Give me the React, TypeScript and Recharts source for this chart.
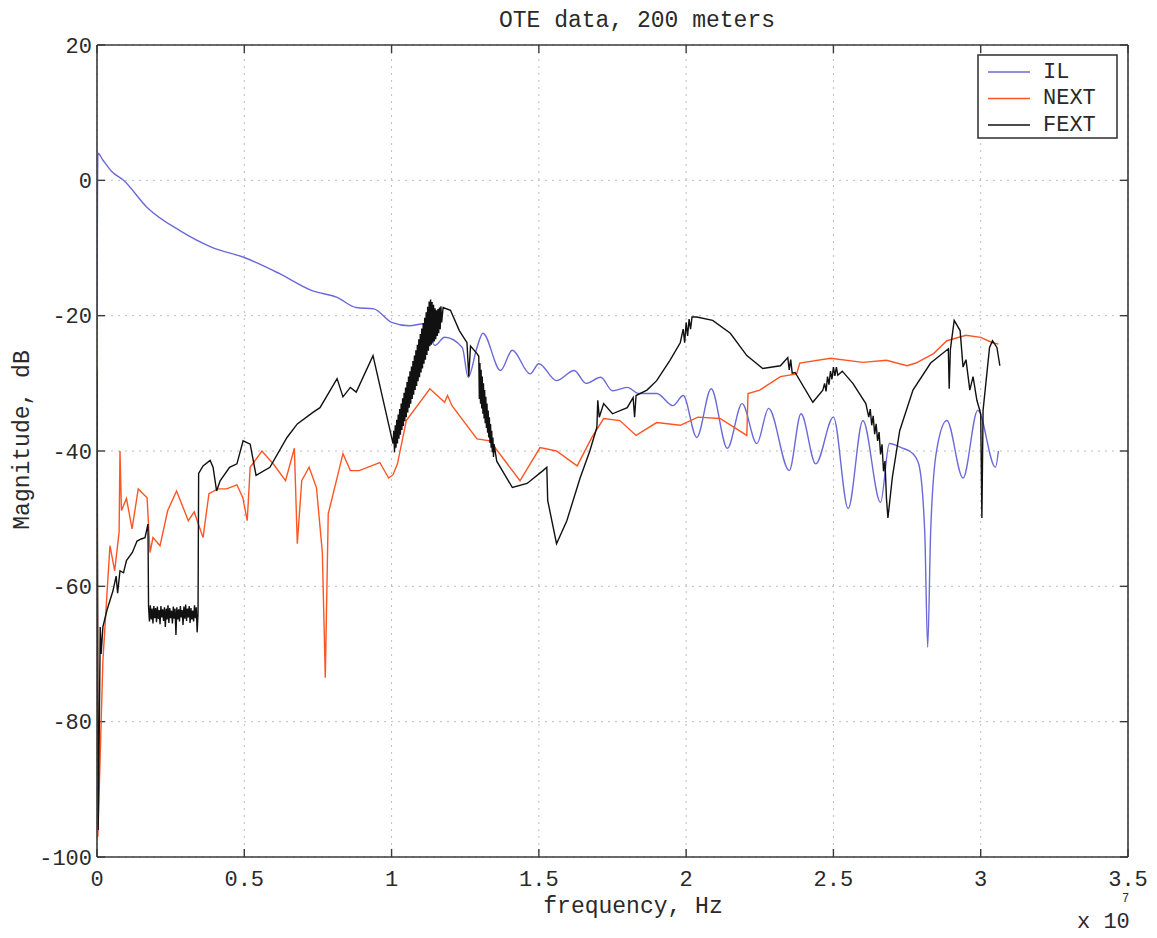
import React from 'react';
import { LineChart, Line, XAxis, YAxis, CartesianGrid, ReferenceLine } from 'recharts';

// frequency in units of 1e7 Hz, magnitude in dB
const X_TICKS = [0, 0.5, 1, 1.5, 2, 2.5, 3, 3.5];
const Y_TICKS = [-100, -80, -60, -40, -20, 0, 20];

const IL_F = [
  0, 0.003, 0.02, 0.05, 0.09, 0.17, 0.28, 0.39, 0.5, 0.62, 0.73, 0.815, 0.88, 0.94, 1.0, 1.06, 1.11,
  1.147, 1.18, 1.24, 1.26, 1.29, 1.31, 1.37, 1.41, 1.47, 1.5, 1.56, 1.62, 1.66, 1.71, 1.75, 1.8, 1.84,
  1.9, 1.955, 1.99, 2.036, 2.085, 2.14, 2.19, 2.24, 2.28, 2.35, 2.39, 2.44, 2.5, 2.55, 2.6, 2.66, 2.69,
  2.73, 2.77, 2.79, 2.81, 2.82, 2.83, 2.85, 2.885, 2.94, 2.99, 3.05, 3.06,
];
const IL_DB = [
  -22, 4, 3, 1.3, 0, -4, -7.4, -9.9, -11.4, -13.8, -16.3, -17.3, -18.8, -19, -21, -21.5, -21.2,
  -24.4, -23.2, -24.7, -29.1, -24.7, -22.6, -28.1, -25.1, -28.6, -27.1, -29.6, -28.1, -30, -29.1, -31.1, -30.6, -31.5,
  -31.5, -33.3, -31.8, -38, -30.8, -39.6, -33, -38.9, -33.7, -42.9, -34.5, -41.9, -35, -48.5, -35.5, -47.6, -38.9,
  -39.5, -40.4, -42, -52, -69, -52, -40, -35.5, -44, -34, -42.4, -40,
];

const NEXT_F = [
  0, 0.003, 0.02, 0.034, 0.044, 0.06, 0.075, 0.078, 0.083, 0.1, 0.119, 0.14, 0.17, 0.18, 0.19, 0.214,
  0.24, 0.27, 0.31, 0.33, 0.36, 0.38, 0.41, 0.44, 0.475, 0.495, 0.51, 0.52, 0.56, 0.6, 0.64, 0.67, 0.68,
  0.695, 0.72, 0.745, 0.765, 0.775, 0.785, 0.835, 0.86, 0.89, 0.96, 0.99, 1.005, 1.02, 1.05, 1.13, 1.18,
  1.19, 1.205, 1.29, 1.334, 1.436, 1.504, 1.56, 1.63, 1.68, 1.72, 1.775, 1.83, 1.9, 1.98, 2.04, 2.115,
  2.206, 2.21, 2.25, 2.32, 2.375, 2.386, 2.49, 2.6, 2.68, 2.75, 2.78, 2.84, 2.885, 2.95, 3.0, 3.04, 3.06,
];
const NEXT_DB = [
  -20, -97, -71, -61, -54, -57.7, -52, -40, -48.8, -47, -51.5, -45.6, -46.9, -55, -52.8, -54,
  -48.8, -45.9, -50.3, -49, -52.8, -46.3, -45.6, -45.6, -45, -46.9, -50.3, -42.4, -40, -42, -44.4, -39.6, -53.7,
  -44.4, -42.4, -45.4, -55, -73.5, -49.3, -40.4, -42.9, -42.9, -41.7, -44, -43.5, -41.9, -35.5, -30.8, -32.8,
  -31.8, -33.3, -38.2, -38.5, -44.4, -39.5, -40, -42.2, -38, -35.2, -35.5, -37.7, -35.8, -36.2, -35, -35.2,
  -37.7, -31.5, -31, -29, -28.6, -27, -26.3, -26.9, -26.6, -27.4, -27, -25.6, -23.7, -22.9, -23.2, -24, -24.2,
];

// FEXT, read in pieces (the noisy stretches are traced as their upper / lower edges)
const FEXT_F_START = [0, 0.004, 0.008, 0.011, 0.014, 0.02, 0.034, 0.054, 0.065, 0.07, 0.078, 0.09, 0.1, 0.12, 0.136, 0.15, 0.163, 0.173];
const FEXT_DB_START = [-28, -96, -80, -66, -70, -66, -63.5, -60.7, -58.5, -61, -57.7, -58, -56.2, -55, -53.3, -53, -52.8, -50.8];

const FEXT_F_FLOOR = [
  0.175, 0.178, 0.181, 0.184, 0.187, 0.19, 0.193, 0.196, 0.199, 0.202,
  0.205, 0.208, 0.211, 0.214, 0.217, 0.22, 0.223, 0.226, 0.229, 0.232,
  0.235, 0.238, 0.241, 0.244, 0.247, 0.25, 0.253, 0.256, 0.259, 0.262,
  0.265, 0.268, 0.271, 0.274, 0.277, 0.28, 0.283, 0.286, 0.289, 0.292,
  0.295, 0.298, 0.301, 0.304, 0.307, 0.31, 0.313, 0.316, 0.319, 0.322,
  0.325, 0.328, 0.331, 0.334, 0.337, 0.34, 0.343,
];
const FEXT_DB_FLOOR = [
  -63.0, -65.2, -62.8, -64.9, -63.3, -65.5, -62.9, -64.7, -63.2, -65.3,
  -63.0, -64.8, -63.5, -65.6, -62.9, -64.6, -63.4, -65.1, -63.1, -66.0,
  -63.3, -64.9, -62.8, -65.4, -63.2, -64.7, -63.6, -65.5, -63.0, -64.8,
  -63.3, -67.2, -63.1, -64.9, -63.4, -65.2, -62.9, -64.6, -63.5, -65.7,
  -63.0, -64.8, -62.7, -65.1, -63.3, -64.6, -62.9, -65.4, -63.2, -64.9,
  -63.6, -65.2, -62.8, -64.7, -63.1, -66.8, -64.0,
];

const FEXT_F_MID1 = [0.345, 0.36, 0.384, 0.394, 0.406, 0.418, 0.45, 0.475, 0.496, 0.52, 0.54, 0.587, 0.645, 0.68, 0.733, 0.757, 0.815, 0.835, 0.86, 0.88, 0.937, 1.005];
const FEXT_DB_MID1 = [-43.3, -42.2, -41.4, -42.4, -45.9, -44.4, -42.4, -41.9, -38.5, -39, -43.6, -42.4, -38, -36, -34.3, -33.6, -29.3, -32, -30.6, -31.3, -25.9, -38.9];

const FEXT_F_RISE = [
  1.0075, 1.01, 1.0125, 1.015, 1.0175, 1.02, 1.0225, 1.025, 1.0275, 1.03,
  1.0325, 1.035, 1.0375, 1.04, 1.0425, 1.045, 1.0475, 1.05, 1.0525, 1.055,
  1.0575, 1.06, 1.0625, 1.065, 1.0675, 1.07, 1.0725, 1.075, 1.0775, 1.08,
  1.0825, 1.085, 1.0875, 1.09, 1.0925, 1.095, 1.0975, 1.1, 1.1025, 1.105,
  1.1075, 1.11, 1.1125, 1.115, 1.1175, 1.12, 1.1225, 1.125, 1.1275, 1.13,
  1.1325, 1.135, 1.1375, 1.14, 1.1425, 1.145, 1.1475, 1.15, 1.1525, 1.155,
  1.1575, 1.16, 1.1625, 1.165, 1.1675, 1.17,
];
const FEXT_DB_RISE = [
  -37, -40.2, -36.2, -39.5, -35.4, -38.9, -34.6, -38.2, -33.8, -37.6,
  -33, -36.9, -32.2, -36.3, -31.4, -35.6, -30.6, -35, -29.8, -34.3,
  -29, -33.6, -28.2, -33, -27.5, -32.3, -26.7, -31.7, -25.9, -31,
  -25.1, -30.4, -24.3, -29.7, -23.5, -29.1, -22.7, -28.4, -21.9, -27.8,
  -21.1, -27.1, -20.3, -26.5, -19.5, -25.8, -18.7, -25.2, -17.9, -24.5,
  -17.6, -24.3, -18, -24, -18.4, -23.8, -18.9, -23.5, -19.2, -23,
  -19, -22.6, -18.8, -22, -18.6, -21,
];

const FEXT_F_MID2 = [1.175, 1.2, 1.23, 1.256, 1.262, 1.268, 1.29];
const FEXT_DB_MID2 = [-18.8, -19.2, -22.2, -24, -29, -24.5, -25.6];

const FEXT_F_FALL = [
  1.296, 1.298, 1.3, 1.302, 1.304, 1.306, 1.308, 1.31, 1.312, 1.314,
  1.316, 1.318, 1.32, 1.322, 1.324, 1.326, 1.328, 1.33, 1.332, 1.334,
  1.336, 1.338, 1.34, 1.342, 1.344, 1.346, 1.348,
];
const FEXT_DB_FALL = [
  -26, -32.3, -27, -33, -28, -33.7, -29, -34.5, -30, -35.2,
  -31, -35.9, -32, -36.6, -33, -37.3, -34, -38, -35, -38.8,
  -36, -39.5, -37, -40.2, -38, -40.9, -39,
];

const FEXT_F_END = [
  1.357, 1.41, 1.46, 1.514, 1.527, 1.53, 1.56, 1.595, 1.64, 1.673, 1.697, 1.7, 1.705, 1.72, 1.75, 1.8,
  1.82, 1.825, 1.83, 1.867, 1.9, 1.945, 1.98, 1.99, 1.995, 2.0, 2.005, 2.01, 2.015, 2.02, 2.036, 2.09,
  2.15, 2.206, 2.26, 2.32, 2.345, 2.35, 2.355, 2.36, 2.37, 2.43, 2.464, 2.47, 2.475, 2.48, 2.485, 2.49,
  2.495, 2.5, 2.505, 2.51, 2.515, 2.53, 2.566, 2.61, 2.62, 2.625, 2.63, 2.635, 2.64, 2.645, 2.65, 2.655,
  2.66, 2.665, 2.67, 2.675, 2.68, 2.685, 2.7, 2.725, 2.77, 2.83, 2.89, 2.893, 2.897, 2.91, 2.93, 2.94,
  2.95, 2.963, 2.974, 2.987, 3.0, 3.004, 3.008, 3.03, 3.04, 3.055, 3.065,
];
const FEXT_DB_END = [
  -41.5, -45.4, -44.8, -42.9, -42.4, -47.3, -53.7, -50.3, -44, -40, -36.5, -32.5, -35, -33, -34.5, -33.6,
  -32.1, -35, -31.8, -31, -29.6, -26.6, -24, -22, -24, -21, -23, -20.5, -22, -20.2, -20.2, -20.7,
  -22.6, -25.9, -27.8, -27.4, -26.2, -28, -26.5, -28.5, -28.4, -32.8, -31, -30, -31.2, -29, -30.2, -28.2,
  -29.4, -27.6, -28.9, -27.6, -28.8, -28.2, -30, -33, -35, -33.8, -36.2, -34.8, -37.5, -36, -38.5, -37.2,
  -40.5, -39, -43, -41.5, -47, -49.9, -43.9, -37, -31, -27, -24.9, -30.8, -25, -20.7, -22.2, -27.6,
  -26.5, -31, -29, -32.5, -34.5, -49.9, -34, -24.7, -23.7, -24.7, -27.4,
];

const FEXT_F = [...FEXT_F_START, ...FEXT_F_FLOOR, ...FEXT_F_MID1, ...FEXT_F_RISE, ...FEXT_F_MID2, ...FEXT_F_FALL, ...FEXT_F_END];
const FEXT_DB = [...FEXT_DB_START, ...FEXT_DB_FLOOR, ...FEXT_DB_MID1, ...FEXT_DB_RISE, ...FEXT_DB_MID2, ...FEXT_DB_FALL, ...FEXT_DB_END];

const toPoints = (f: number[], db: number[]) =>
  f.map((x, i) => ({ f: x, db: db[i] })).filter(p => p.db !== undefined);

const ilData = toPoints(IL_F, IL_DB);
const nextData = toPoints(NEXT_F, NEXT_DB);
const fextData = toPoints(FEXT_F, FEXT_DB);

const IL_COLOR = '#6a6ad8';
const NEXT_COLOR = '#ff5522';
const FEXT_COLOR = '#111111';
const BOX = '#3a3a3a';
const FONT = '"Liberation Mono", "DejaVu Sans Mono", monospace';

const X_TICK_LEN = 0.027;
const Y_TICK_LEN = 1.2;

const legendItems = [
  { name: 'IL', color: IL_COLOR },
  { name: 'NEXT', color: NEXT_COLOR },
  { name: 'FEXT', color: FEXT_COLOR },
];

export default function App() {
  const tickStyle = { fontFamily: FONT, fontSize: 22, fill: '#2a2a2a' };
  return (
    <div style={{ position: 'absolute', left: 0, top: 0, width: 1157, height: 938, background: '#fff' }}>
      <LineChart width={1157} height={938} margin={{ top: 45, right: 29, left: 37, bottom: 41 }}>
        <CartesianGrid stroke="#bdbdbd" strokeDasharray="2 5" />
        <XAxis
          dataKey="f"
          type="number"
          domain={[0, 3.5]}
          ticks={X_TICKS}
          allowDataOverflow
          height={40}
          tickLine={false}
          tickSize={0}
          tickMargin={13}
          tick={tickStyle}
          axisLine={{ stroke: BOX, strokeWidth: 1.6 }}
        />
        <YAxis
          type="number"
          domain={[-100, 20]}
          ticks={Y_TICKS}
          allowDataOverflow
          width={60}
          tickLine={false}
          tickSize={0}
          tickMargin={5}
          tick={tickStyle}
          axisLine={{ stroke: BOX, strokeWidth: 1.6 }}
        />
        <ReferenceLine y={20} stroke={BOX} strokeWidth={1.6} />
        <ReferenceLine x={3.5} stroke={BOX} strokeWidth={1.6} />
        {X_TICKS.map(t => (
          <ReferenceLine key={'xb' + t} segment={[{ x: t, y: -100 }, { x: t, y: -100 + Y_TICK_LEN }]} stroke={BOX} strokeWidth={1.4} ifOverflow="visible" />
        ))}
        {X_TICKS.map(t => (
          <ReferenceLine key={'xt' + t} segment={[{ x: t, y: 20 }, { x: t, y: 20 - Y_TICK_LEN }]} stroke={BOX} strokeWidth={1.4} ifOverflow="visible" />
        ))}
        {Y_TICKS.map(t => (
          <ReferenceLine key={'yl' + t} segment={[{ x: 0, y: t }, { x: X_TICK_LEN, y: t }]} stroke={BOX} strokeWidth={1.4} ifOverflow="visible" />
        ))}
        {Y_TICKS.map(t => (
          <ReferenceLine key={'yr' + t} segment={[{ x: 3.5, y: t }, { x: 3.5 - X_TICK_LEN, y: t }]} stroke={BOX} strokeWidth={1.4} ifOverflow="visible" />
        ))}
        <Line data={ilData} dataKey="db" name="IL" type="monotone" stroke={IL_COLOR} strokeWidth={1.4} dot={false} isAnimationActive={false} />
        <Line data={nextData} dataKey="db" name="NEXT" type="linear" stroke={NEXT_COLOR} strokeWidth={1.4} dot={false} isAnimationActive={false} />
        <Line data={fextData} dataKey="db" name="FEXT" type="linear" stroke={FEXT_COLOR} strokeWidth={1.4} dot={false} isAnimationActive={false} />
      </LineChart>

      <svg width={1157} height={938} style={{ position: 'absolute', left: 0, top: 0, pointerEvents: 'none' }}>
        <text x={637} y={27} textAnchor="middle" fontFamily={FONT} fontSize={23} fill="#2a2a2a">
          OTE data, 200 meters
        </text>
        <text x={633} y={913} textAnchor="middle" fontFamily={FONT} fontSize={23} fill="#2a2a2a">
          frequency, Hz
        </text>
        <text
          x={23}
          y={440}
          textAnchor="middle"
          dominantBaseline="central"
          transform="rotate(-90 23 440)"
          fontFamily={FONT}
          fontSize={23}
          fill="#2a2a2a"
        >
          Magnitude, dB
        </text>
        <text x={1077} y={928} fontFamily={FONT} fontSize={22} fill="#2a2a2a">x 10</text>
        <text x={1122} y={902} fontFamily={FONT} fontSize={12} fill="#2a2a2a">7</text>

        <rect x={978} y={55} width={139} height={83} fill="#fff" stroke={BOX} strokeWidth={1.6} />
        {legendItems.map((it, i) => (
          <g key={it.name}>
            <line x1={988} x2={1030} y1={72 + i * 26.5} y2={72 + i * 26.5} stroke={it.color} strokeWidth={1.6} />
            <text x={1043} y={72 + i * 26.5} dominantBaseline="central" fontFamily={FONT} fontSize={22} fill="#2a2a2a">
              {it.name}
            </text>
          </g>
        ))}
      </svg>
    </div>
  );
}
